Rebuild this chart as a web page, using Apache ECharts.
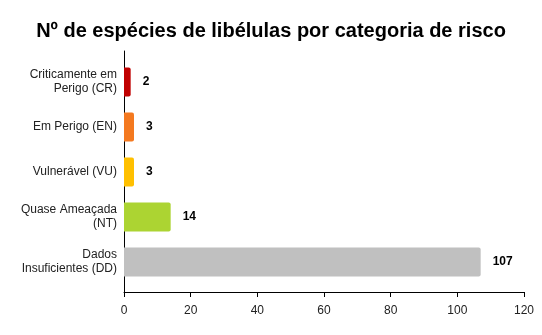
<!DOCTYPE html>
<html>
<head>
<meta charset="utf-8">
<script src="https://cdn.jsdelivr.net/npm/echarts@6/dist/echarts.min.js"></script>
<style>
  html, body { margin: 0; padding: 0; background: #fff; }
  #chart { width: 542px; height: 335px; }
</style>
</head>
<body>
<div id="chart"></div>
<script>
// categorias de risco (de cima para baixo)
const categories = [
  'Criticamente em\nPerigo (CR)',
  'Em Perigo (EN)',
  'Vulnerável (VU)',
  'Quase Ameaçada\n(NT)',
  'Dados\nInsuficientes (DD)'
]
const values = [2, 3, 3, 14, 107]
const barColors = ['#c00000', '#f47920', '#ffc000', '#acd432', '#c0c0c0']
const xTicks = [0, 20, 40, 60, 80, 100, 120]

const chart = echarts.init(document.getElementById('chart'))

const fontFamily = 'Liberation Sans, Arial, sans-serif'

chart.setOption({
  animation: false,
  title: {
    text: 'Nº de espécies de libélulas por categoria de risco',
    left: 'center',
    top: 16,
    textStyle: { fontFamily, fontSize: 20, fontWeight: 'bold', color: '#000' }
  },
  grid: [
    // grelha dos eixos (linhas)
    { left: 124, right: 18, top: 51, bottom: 43 },
    // grelha das barras
    { left: 124, right: 18, top: 59.5, height: 225 }
  ],
  xAxis: [
    {
      gridIndex: 0,
      type: 'value',
      min: xTicks[0],
      max: xTicks[xTicks.length - 1],
      interval: 20,
      axisLine: { show: true, lineStyle: { color: '#000', width: 1 } },
      axisTick: { show: true, length: 5, lineStyle: { color: '#000' } },
      axisLabel: { fontFamily, fontSize: 12, color: '#222', margin: 13 },
      splitLine: { show: false }
    },
    {
      gridIndex: 1,
      type: 'value',
      min: xTicks[0],
      max: xTicks[xTicks.length - 1],
      show: false
    }
  ],
  yAxis: [
    {
      gridIndex: 0,
      type: 'value',
      axisLine: { show: true, lineStyle: { color: '#000', width: 1 } },
      axisTick: { show: false },
      axisLabel: { show: false },
      splitLine: { show: false }
    },
    {
      gridIndex: 1,
      type: 'category',
      inverse: true,
      data: categories,
      axisLine: { show: false },
      axisTick: { show: false },
      axisLabel: {
        fontFamily,
        fontSize: 12,
        color: '#222',
        margin: 7,
        lineHeight: 14,
        align: 'right'
      }
    }
  ],
  series: [{
    type: 'bar',
    xAxisIndex: 1,
    yAxisIndex: 1,
    barWidth: 29,
    data: values.map((v, i) => ({
      value: v,
      itemStyle: { color: barColors[i], borderRadius: [0, 2, 2, 0] }
    })),
    label: {
      show: true,
      position: 'right',
      distance: 12,
      fontFamily,
      fontSize: 12,
      fontWeight: 'bold',
      color: '#000'
    }
  }]
})
</script>
</body>
</html>
